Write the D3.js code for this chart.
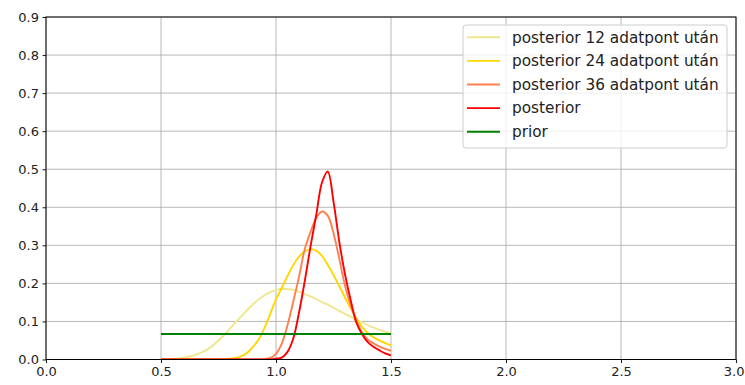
<!DOCTYPE html>
<html>
<head>
<meta charset="utf-8">
<script src="https://cdn.jsdelivr.net/npm/d3@7/dist/d3.min.js"></script>
<style>
  html, body { margin: 0; padding: 0; background: #fff; }
  svg { display: block; font-family: "DejaVu Sans", sans-serif; }
</style>
</head>
<body>
<svg id="chart" width="745" height="385"></svg>
<script>
// Parameter grid on which the distributions are evaluated
const thetaGrid = [0.5, 0.525, 0.55, 0.575, 0.6, 0.625, 0.65, 0.675, 0.7, 0.725,
  0.75, 0.775, 0.8, 0.825, 0.85, 0.875, 0.9, 0.925, 0.95, 0.975,
  1.0, 1.025, 1.05, 1.075, 1.1, 1.125, 1.15, 1.175, 1.2, 1.225,
  1.25, 1.275, 1.3, 1.325, 1.35, 1.375, 1.4, 1.425, 1.45, 1.475, 1.5];

// Posterior after 12 data points
const post12 = [0.001, 0.001, 0.002, 0.003, 0.005, 0.008, 0.012, 0.018, 0.026, 0.037,
  0.050, 0.065, 0.081, 0.098, 0.114, 0.130, 0.145, 0.158, 0.169, 0.177,
  0.183, 0.186, 0.185, 0.183, 0.178, 0.172, 0.166, 0.159, 0.151, 0.144,
  0.136, 0.128, 0.120, 0.112, 0.104, 0.097, 0.090, 0.084, 0.078, 0.073, 0.068];

// Posterior after 24 data points
const post24 = [0, 0, 0, 0, 0, 0, 0, 0, 0, 0,
  0.000, 0.001, 0.002, 0.004, 0.009, 0.018, 0.033, 0.053, 0.083, 0.120,
  0.158, 0.188, 0.219, 0.248, 0.270, 0.284, 0.290, 0.286, 0.272, 0.249,
  0.222, 0.193, 0.163, 0.134, 0.108, 0.085, 0.069, 0.058, 0.050, 0.043, 0.037];

// Posterior after 36 data points
const post36 = [0, 0, 0, 0, 0, 0, 0, 0, 0, 0,
  0, 0, 0, 0, 0, 0, 0, 0, 0.001, 0.004,
  0.015, 0.042, 0.090, 0.152, 0.217, 0.290, 0.335, 0.372, 0.389, 0.378,
  0.332, 0.265, 0.194, 0.142, 0.102, 0.070, 0.052, 0.042, 0.034, 0.028, 0.023];

// Final posterior
const postFinal = [0, 0, 0, 0, 0, 0, 0, 0, 0, 0,
  0, 0, 0, 0, 0, 0, 0, 0, 0, 0,
  0.002, 0.005, 0.020, 0.055, 0.123, 0.206, 0.297, 0.380, 0.465, 0.494,
  0.415, 0.310, 0.224, 0.155, 0.096, 0.066, 0.045, 0.033, 0.024, 0.016, 0.011];

// Uniform prior over the same interval
const priorTheta = [0.5, 1.5];
const priorVals = [0.067, 0.067];

const xTicks = [0.0, 0.5, 1.0, 1.5, 2.0, 2.5, 3.0];
const yTicks = [0.0, 0.1, 0.2, 0.3, 0.4, 0.5, 0.6, 0.7, 0.8, 0.9];

const seriesLabels = ["posterior 12 adatpont után", "posterior 24 adatpont után",
  "posterior 36 adatpont után", "posterior", "prior"];
const seriesColors = ["#f0e68c", "#ffd700", "#ff7f50", "#ff0000", "#008000"];

const W = 745, H = 385;
const svg = d3.select("#chart");
const L = 46, R = 736, T = 17, B = 359.5;

const x = d3.scaleLinear().domain([0, 3]).range([L, R]);
const y = d3.scaleLinear().domain([0, 0.9]).range([B, T]);

svg.append("rect").attr("width", W).attr("height", H).attr("fill", "#fff");

// Grid
const grid = svg.append("g").attr("stroke", "#b0b0b0").attr("stroke-width", 0.9);
grid.selectAll("line.gx").data(xTicks).join("line")
  .attr("x1", d => x(d)).attr("x2", d => x(d)).attr("y1", T).attr("y2", B);
grid.selectAll("line.gy").data(yTicks).join("line")
  .attr("x1", L).attr("x2", R).attr("y1", d => y(d)).attr("y2", d => y(d));

// Clip for curves
svg.append("clipPath").attr("id", "plotclip").append("rect")
  .attr("x", L).attr("y", T - 2).attr("width", R - L).attr("height", B - T + 2);

const line = d3.line().curve(d3.curveCatmullRom.alpha(0.5))
  .x(d => x(d[0])).y(d => y(Math.max(0, d[1])));

const curves = [
  [thetaGrid, post12],
  [thetaGrid, post24],
  [thetaGrid, post36],
  [thetaGrid, postFinal],
  [priorTheta, priorVals]
];

const plot = svg.append("g").attr("clip-path", "url(#plotclip)");
curves.forEach(([xs, ys], i) => {
  plot.append("path")
    .datum(xs.map((t, j) => [t, ys[j]]))
    .attr("fill", "none")
    .attr("stroke", seriesColors[i])
    .attr("stroke-width", 1.9)
    .attr("stroke-linejoin", "round")
    .attr("d", line);
});

// Axes
const fmt = d3.format(".1f");
const xAxis = svg.append("g").attr("transform", `translate(0,${B})`)
  .call(d3.axisBottom(x).tickValues(xTicks).tickFormat(fmt).tickSize(3.5).tickSizeOuter(0).tickPadding(3.5));
const yAxis = svg.append("g").attr("transform", `translate(${L},0)`)
  .call(d3.axisLeft(y).tickValues(yTicks).tickFormat(fmt).tickSize(3.5).tickSizeOuter(0).tickPadding(3.5));
[xAxis, yAxis].forEach(a => {
  a.select(".domain").remove();
  a.selectAll(".tick line").attr("stroke", "#000").attr("stroke-width", 0.9);
  a.selectAll(".tick text").attr("fill", "#222").style("font-size", "13px")
    .style("font-family", "'DejaVu Sans', sans-serif");
});

// Keep the last x label inside the canvas
xAxis.selectAll(".tick text").each(function () {
  const bb = this.getBBox();
  const tick = this.parentNode.getAttribute("transform");
  const tx = +tick.match(/translate\(([-\d.]+)/)[1];
  const over = tx + bb.x + bb.width - (W - 0.5);
  if (over > 0) d3.select(this).attr("dx", -over);
});

// Frame
svg.append("rect").attr("x", L).attr("y", T).attr("width", R - L).attr("height", B - T)
  .attr("fill", "none").attr("stroke", "#000").attr("stroke-width", 1);

// Legend
const lg = svg.append("g").attr("transform", "translate(463,25)");
lg.append("rect").attr("width", 264).attr("height", 123).attr("rx", 3)
  .attr("fill", "#fff").attr("fill-opacity", 0.8).attr("stroke", "#cccccc").attr("stroke-width", 1);
seriesLabels.forEach((lab, i) => {
  const yy = 12.3 + i * 23.6;
  lg.append("line").attr("x1", 4).attr("x2", 37).attr("y1", yy).attr("y2", yy)
    .attr("stroke", seriesColors[i]).attr("stroke-width", 1.9);
  lg.append("text").attr("x", 49).attr("y", yy).attr("dy", "0.35em")
    .attr("fill", "#222").style("font-size", "15.3px").text(lab);
});
</script>
</body>
</html>
